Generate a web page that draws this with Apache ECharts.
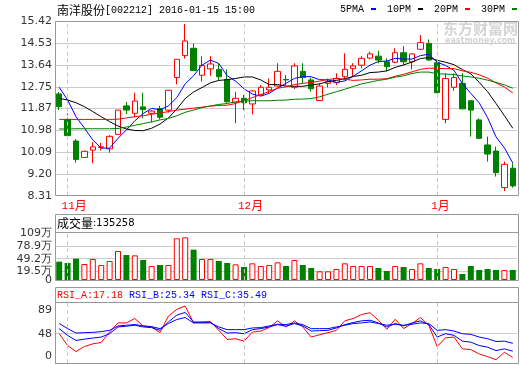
<!DOCTYPE html>
<html><head><meta charset="utf-8">
<script src="https://cdn.jsdelivr.net/npm/echarts@6/dist/echarts.min.js"></script>
<style>html,body{margin:0;padding:0;background:#fff}#c{width:520px;height:365px}</style>
</head><body><div id="c"></div>
<script>
const titleName = '南洋股份';
const titleCode = '[002212] 2016-01-15 15:00';
const volHeaderValue = 135258;

const dates = ['2015-10-30',
 '2015-11-02','2015-11-03','2015-11-04','2015-11-05','2015-11-06','2015-11-09','2015-11-10','2015-11-11','2015-11-12','2015-11-13',
 '2015-11-16','2015-11-17','2015-11-18','2015-11-19','2015-11-20','2015-11-23','2015-11-24','2015-11-25','2015-11-26','2015-11-27','2015-11-30',
 '2015-12-01','2015-12-02','2015-12-03','2015-12-04','2015-12-07','2015-12-08','2015-12-09','2015-12-10','2015-12-11',
 '2015-12-14','2015-12-15','2015-12-16','2015-12-17','2015-12-18','2015-12-21','2015-12-22','2015-12-23','2015-12-24','2015-12-25',
 '2015-12-28','2015-12-29','2015-12-30','2015-12-31',
 '2016-01-04','2016-01-05','2016-01-06','2016-01-07','2016-01-08','2016-01-11','2016-01-12','2016-01-13','2016-01-14','2016-01-15'];

const openP  = [12.46,11.42,10.54,9.87,10.17,10.28,10.22,10.81,11.97,11.67,11.93,11.67,11.86,11.80,13.13,14.02,14.32,13.22,13.48,13.46,13.05,12.12,12.28,12.05,12.42,12.62,12.78,13.05,12.73,13.38,13.03,12.19,12.89,12.92,13.16,13.49,13.63,13.92,14.00,13.77,13.75,14.14,13.77,14.28,14.52,13.73,11.42,12.73,12.89,12.18,11.40,10.38,10.13,8.64,9.43];
const closeP = [11.94,10.76,9.79,10.12,10.30,10.30,10.73,11.80,11.80,12.17,11.82,11.76,11.51,12.61,13.87,14.62,13.41,13.62,13.68,13.16,12.14,12.28,12.10,12.58,12.73,12.73,13.38,13.03,13.60,13.13,12.67,12.78,12.96,13.09,13.46,13.60,13.91,14.09,13.84,13.57,14.14,13.77,14.09,14.55,13.84,12.51,13.09,13.13,11.85,11.80,10.65,10.01,9.25,9.59,8.71];
const lowP   = [11.80,10.74,9.66,9.85,9.63,10.15,10.06,10.79,11.64,11.50,11.47,11.30,11.42,11.70,12.85,13.90,13.41,12.96,13.20,13.03,12.10,11.26,11.80,11.63,12.40,12.48,12.76,12.82,12.66,12.89,12.55,12.17,12.73,12.82,13.03,13.16,13.50,13.87,13.71,13.37,13.71,13.64,13.46,14.25,13.82,12.49,11.26,12.59,11.83,10.72,10.63,9.70,9.09,8.50,8.64];
const highP  = [12.54,11.67,10.62,10.15,10.49,10.47,10.78,11.80,12.13,12.51,12.51,11.80,11.97,12.62,13.87,15.31,14.52,14.00,14.00,13.71,13.46,12.55,12.42,12.60,12.82,13.09,13.71,13.23,13.71,13.71,13.12,12.89,13.09,13.30,14.11,13.71,14.00,14.18,14.22,13.91,14.32,14.41,14.11,14.86,14.68,13.82,13.30,13.30,13.30,12.20,11.46,10.72,10.31,9.70,9.63];

const ma5  = [12.73,12.21,11.53,11.07,10.58,10.25,10.25,10.65,10.99,11.36,11.66,11.87,11.81,11.97,12.31,12.87,13.20,13.63,13.84,13.70,13.20,12.98,12.67,12.45,12.37,12.48,12.70,12.89,13.09,13.17,13.16,13.04,13.03,12.93,12.99,13.18,13.40,13.63,13.78,13.80,13.91,13.88,13.88,14.02,14.08,13.75,13.62,13.42,12.88,12.48,12.10,11.49,10.71,10.26,9.64];
const ma10 = [12.28,12.21,12.10,11.94,11.74,11.53,11.33,11.15,11.03,10.97,10.96,11.06,11.23,11.48,11.84,12.27,12.54,12.72,12.91,13.01,13.04,13.09,13.15,13.15,13.03,12.84,12.84,12.78,12.77,12.77,12.82,12.87,12.96,13.01,13.08,13.17,13.22,13.33,13.35,13.40,13.54,13.64,13.76,13.90,13.94,13.83,13.75,13.65,13.45,13.28,12.93,12.55,12.07,11.57,11.06];
const ma20 = [11.42,11.42,11.42,11.42,11.42,11.42,11.42,11.43,11.48,11.53,11.57,11.63,11.68,11.74,11.80,11.84,11.88,11.92,11.96,11.99,12.00,12.07,12.19,12.31,12.43,12.56,12.69,12.75,12.84,12.89,12.93,12.98,13.05,13.08,13.06,13.01,13.03,13.06,13.06,13.08,13.18,13.26,13.36,13.46,13.51,13.50,13.49,13.49,13.40,13.34,13.24,13.10,12.91,12.74,12.50];
const ma30 = [11.03,11.03,11.04,11.04,11.04,11.04,11.04,11.05,11.11,11.18,11.25,11.32,11.40,11.46,11.57,11.71,11.80,11.90,11.97,12.03,12.07,12.13,12.17,12.18,12.18,12.18,12.20,12.21,12.24,12.25,12.27,12.34,12.45,12.55,12.65,12.76,12.87,12.94,13.01,13.06,13.14,13.20,13.29,13.35,13.35,13.28,13.27,13.25,13.19,13.15,13.10,13.02,12.93,12.83,12.69];

// volume in 万
const volume = [42.2,39.2,49.2,36.9,48.4,34.6,43.8,66.8,57.6,56.8,46.1,32.3,34.6,34.6,96.0,98.3,69.9,48.4,48.4,43.8,39.2,36.1,30.0,38.4,32.3,34.6,40.7,32.3,46.1,34.6,27.6,20.0,20.0,25.3,38.4,32.3,32.3,32.3,27.6,20.7,32.3,30.0,25.3,38.4,27.6,25.3,30.0,25.3,13.8,32.3,23.0,25.3,23.0,23.0,23.0];

const rsiA = [48.0,32.6,24.8,31.3,34.8,36.6,50.1,61.9,61.9,67.6,58.0,56.7,49.3,70.7,79.4,83.8,61.9,63.2,63.7,52.3,40.5,41.4,38.3,50.1,51.4,56.0,64.6,56.7,64.6,56.7,43.6,46.6,49.3,52.3,64.6,67.6,72.9,75.1,65.4,53.6,66.7,54.5,61.1,68.9,58.9,31.3,42.7,43.6,28.3,27.4,21.7,18.2,14.3,23.9,17.18];
const rsiB = [54.5,45.8,39.2,40.9,42.3,43.6,48.0,56.7,57.6,58.9,56.7,55.8,52.3,63.2,72.0,75.5,63.2,62.8,62.8,54.5,48.8,49.3,47.9,53.2,54.5,56.7,59.7,57.6,61.1,58.0,51.4,51.9,52.3,55.4,59.7,62.4,64.6,65.4,61.9,56.7,61.1,58.0,61.9,64.6,59.7,43.6,48.0,45.8,38.3,37.0,32.6,30.5,26.1,28.3,25.34];
const rsiC = [61.1,54.5,48.8,49.3,49.7,50.6,52.3,58.0,58.9,59.8,58.0,57.1,54.5,61.1,66.3,68.9,61.9,61.9,61.9,56.7,53.2,53.2,53.2,55.4,55.8,58.0,60.2,59.7,61.9,59.7,54.5,54.5,54.5,56.7,58.9,61.1,61.9,63.2,61.1,58.9,60.2,58.9,60.2,61.9,61.1,52.3,53.2,51.4,47.9,47.1,43.6,41.4,37.9,38.3,35.49];

const priceTicks = [8.31,9.20,10.09,10.98,11.87,12.75,13.64,14.53,15.42];
const volTicks = [0,19.5,49.2,78.9,109];
const rsiTicks = [10,48,89];
const rsiTickLabels = ['0','48','89'];

const maNames = ['5PMA','10PM','20PM','30PM'];
const maColors = ['#0000ff','#000000','#ff0000','#008000'];
const maData = [ma5, ma10, ma20, ma30];

const monthStartIdx = dates.map((d,i)=> i>0 && d.slice(5,7)!==dates[i-1].slice(5,7) ? i : -1).filter(i=>i>=0);
const monthStarts = monthStartIdx.map(i=>dates[i]);

const isUp = dates.map((d,i)=> closeP[i] >= openP[i]);

const monthLine = {
  symbol:['none','none'], silent:true, animation:false,
  label:{show:false}, emphasis:{disabled:true},
  lineStyle:{color:'#c8c8c8', type:[4,3], width:1},
  data: monthStarts.map(d=>({xAxis:d}))
};

const axisFont = {fontFamily:'DejaVu Sans', fontSize:11, color:'#333', hideOverlap:false, showMinLabel:true, showMaxLabel:true};
const L = 55, W = 462;

const xAxes = [0,1,2].map(g=>({
  type:'category', gridIndex:g, data:dates, boundaryGap:true,
  axisLine:{show:false}, axisTick:{show:false}, splitLine:{show:false},
  axisLabel: g===0 ? {
    show:true, interval:(i)=>monthStartIdx.includes(i), margin:4, align:'left', padding:[0,0,0,-6],
    formatter:(v)=>'{d|'+(+v.slice(5,7))+'}{c|月}',
    rich:{d:{fontFamily:'Liberation Mono', fontSize:11, color:'#ff0000'}, c:{fontFamily:'Noto Sans CJK SC', fontSize:12, color:'#ff0000'}}
  } : {show:false}
}));

const volLabelTicks = volTicks.slice(1);
const volZeroTick = [volTicks[0]];

const option = {
  animation:false,
  backgroundColor:'#fff',
  grid:[
    {left:L, top:21.3, width:W, height:174.4},
    {left:L, top:232.7, width:W, height:47.3},
    {left:L, top:302, width:W, height:61}
  ],
  legend:{
    left:340, top:4, width:200, padding:0, itemWidth:5, itemHeight:2, itemGap:11, align:'right', icon:'rect', selectedMode:false,
    textStyle:{fontFamily:'Liberation Mono', fontSize:10, color:'#000', padding:[0,2,0,0]},
    data:maNames
  },
  xAxis:xAxes,
  yAxis:[
    {type:'value', gridIndex:0, min:priceTicks[0], max:priceTicks[priceTicks.length-1],
     axisLine:{show:false}, axisTick:{show:false, customValues:priceTicks},
     axisLabel:Object.assign({customValues:priceTicks, margin:3, formatter:v=>v.toFixed(2)}, axisFont),
     splitLine:{show:true, lineStyle:{color:'#cccccc', width:1}}},
    {type:'value', gridIndex:1, position:'left', min:volTicks[0], max:volTicks[volTicks.length-1],
     axisLine:{show:false}, axisTick:{show:false, customValues:volLabelTicks},
     axisLabel:Object.assign({customValues:volLabelTicks, margin:3, formatter:v=> v+'万'}, axisFont),
     splitLine:{show:true, lineStyle:{color:'#cccccc', width:1}}},
    {type:'value', gridIndex:2, position:'left', min:rsiTicks[0], max:rsiTicks[rsiTicks.length-1],
     axisLine:{show:false}, axisTick:{show:false, customValues:rsiTicks},
     axisLabel:Object.assign({customValues:rsiTicks, margin:3,
       formatter:v=>{const k=rsiTicks.indexOf(v); const t=rsiTickLabels[k]; return k===0?'{b|'+t+'}':(k===rsiTicks.length-1?'{t|'+t+'}':t);},
       rich:{b:{fontFamily:'DejaVu Sans', fontSize:11, color:'#333', padding:[0,0,14,0]}, t:{fontFamily:'DejaVu Sans', fontSize:11, color:'#333', padding:[17,0,0,0]}}
     }, axisFont),
     splitLine:{show:true, lineStyle:{color:'#cccccc', width:1}}},
    {type:'value', gridIndex:1, position:'left', offset:0, min:volTicks[0], max:volTicks[volTicks.length-1],
     axisLine:{show:false}, axisTick:{show:false, customValues:volZeroTick},
     axisLabel:Object.assign({customValues:volZeroTick, margin:3, formatter:v=>String(v)}, axisFont),
     splitLine:{show:false}}
  ],
  series:[
    {type:'candlestick', name:'K', xAxisIndex:0, yAxisIndex:0, barWidth:6, silent:true,
     data: dates.map((d,i)=>[openP[i], closeP[i], lowP[i], highP[i]]),
     itemStyle:{color:'#ffffff', color0:'#008000', borderColor:'#ff0000', borderColor0:'#008000', borderWidth:1},
     markLine: monthLine},
    ...maNames.map((n,k)=>({
      type:'line', name:n, xAxisIndex:0, yAxisIndex:0, data:maData[k], symbol:'none', silent:true,
      itemStyle:{color:maColors[k]}, lineStyle:{color:maColors[k], width:1}
    })),
    {type:'bar', name:'VOL', xAxisIndex:1, yAxisIndex:1, barWidth:6, silent:true,
     data: volume.map((v,i)=>({value:v, itemStyle: isUp[i] ? {color:'#ffffff', borderColor:'#ff0000', borderWidth:1} : {color:'#008000', borderColor:'#008000', borderWidth:0}})),
     markLine: monthLine},
    {type:'line', name:'RSI_A', xAxisIndex:2, yAxisIndex:2, data:rsiA, symbol:'none', silent:true, lineStyle:{color:'#ff0000', width:1}, markLine: monthLine},
    {type:'line', name:'RSI_B', xAxisIndex:2, yAxisIndex:2, data:rsiB, symbol:'none', silent:true, lineStyle:{color:'#0000ff', width:1}},
    {type:'line', name:'RSI_C', xAxisIndex:2, yAxisIndex:2, data:rsiC, symbol:'none', silent:true, lineStyle:{color:'#0000ff', width:1}}
  ],
  graphic:[
    {type:'text', x:443, y:21, z:0, silent:true, style:{text:'东方财富网', fontFamily:'Noto Sans CJK SC', fontWeight:'bold', fontSize:15, fill:'#d4d4d4'}},
    {type:'text', x:445, y:37, z:0, silent:true, style:{text:'eastmoney.com', fontFamily:'DejaVu Sans', fontWeight:'bold', fontSize:8, fill:'#d4d4d4'}},
    {type:'text', x:57, y:10, z:100, silent:true, style:{text:'{c|'+titleName+'}{m|'+titleCode+'}', verticalAlign:'middle',
      rich:{c:{fontFamily:'Noto Sans CJK SC', fontSize:12, fill:'#000'}, m:{fontFamily:'Liberation Mono', fontSize:10, fill:'#000'}}}},
    {type:'rect', z:100, silent:true, shape:{x:55.5, y:21.5, width:463, height:174}, style:{fill:'none', stroke:'#999', lineWidth:1}},
    {type:'rect', z:100, silent:true, shape:{x:55.5, y:214.5, width:463, height:18}, style:{fill:'none', stroke:'#999', lineWidth:1}},
    {type:'rect', z:100, silent:true, shape:{x:55.5, y:232.5, width:463, height:48}, style:{fill:'none', stroke:'#999', lineWidth:1}},
    {type:'rect', z:100, silent:true, shape:{x:55.5, y:287.5, width:463, height:15}, style:{fill:'none', stroke:'#999', lineWidth:1}},
    {type:'rect', z:100, silent:true, shape:{x:55.5, y:302.5, width:463, height:61}, style:{fill:'none', stroke:'#999', lineWidth:1}},
    {type:'text', x:57, y:223.5, z:100, silent:true, style:{text:'{c|成交量}{m|:'+volHeaderValue+'}', verticalAlign:'middle',
      rich:{c:{fontFamily:'Noto Sans CJK SC', fontSize:12, fill:'#000'}, m:{fontFamily:'DejaVu Sans', fontSize:10, fill:'#000'}}}},
    {type:'text', x:57, y:295, z:100, silent:true, style:{
      text:'{a|RSI_A:'+rsiA[rsiA.length-1]+' }{b|RSI_B:'+rsiB[rsiB.length-1]+' }{b|RSI_C:'+rsiC[rsiC.length-1]+'}', verticalAlign:'middle',
      rich:{a:{fontFamily:'Liberation Mono', fontSize:10, fill:'#ff0000'}, b:{fontFamily:'Liberation Mono', fontSize:10, fill:'#0000ff'}}}}
  ]
};
const chart = echarts.init(document.getElementById('c'));
chart.setOption(option);
</script>
</body></html>
